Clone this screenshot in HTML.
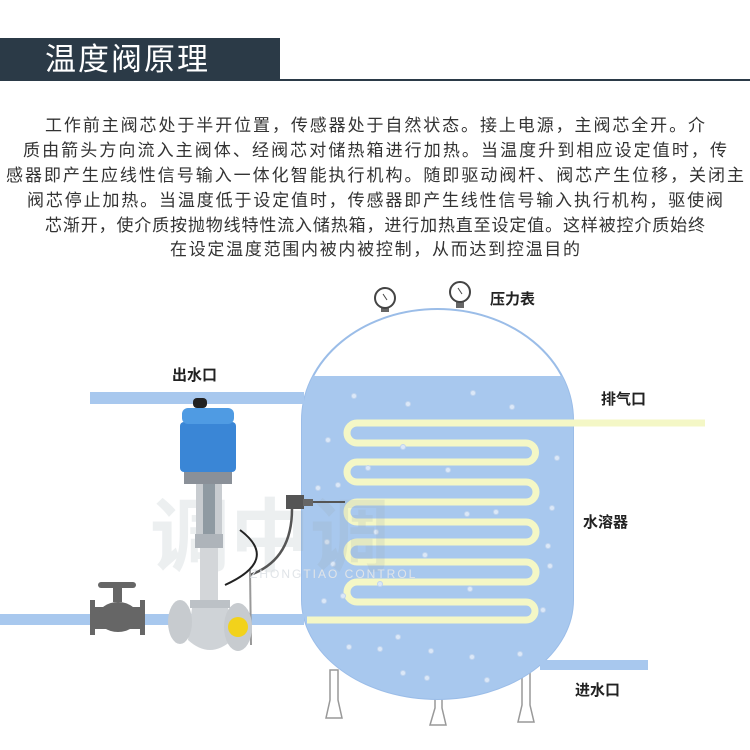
<!DOCTYPE html>
<html><head><meta charset="utf-8"><style>
body{margin:0;width:750px;height:750px;background:#fff;overflow:hidden;position:relative;font-family:"Liberation Sans","Noto Sans CJK SC",sans-serif}
.hd{position:absolute;left:0;top:38px;width:280px;height:43px;background:#2b3a47}
.hl{position:absolute;left:280px;top:79px;width:470px;height:2px;background:#2b3a47}
.ht{position:absolute;left:45px;top:40px;color:#fff;font-size:31px;line-height:40px;letter-spacing:2px}
.ln{position:absolute;font-size:17px;line-height:22px;color:#333;text-align:justify;text-align-last:justify;white-space:nowrap}
</style></head><body>
<div class="hd"></div><div class="hl"></div><div class="ht">温度阀原理</div>
<div class="ln" style="left:45px;top:115px;width:660px">工作前主阀芯处于半开位置，传感器处于自然状态。接上电源，主阀芯全开。介</div>
<div class="ln" style="left:23px;top:140px;width:704px">质由箭头方向流入主阀体、经阀芯对储热箱进行加热。当温度升到相应设定值时，传</div>
<div class="ln" style="left:6px;top:165px;width:738px">感器即产生应线性信号输入一体化智能执行机构。随即驱动阀杆、阀芯产生位移，关闭主</div>
<div class="ln" style="left:27px;top:190px;width:696px">阀芯停止加热。当温度低于设定值时，传感器即产生线性信号输入执行机构，驱使阀</div>
<div class="ln" style="left:45px;top:215px;width:660px">芯渐开，使介质按抛物线特性流入储热箱，进行加热直至设定值。这样被控介质始终</div>
<div class="ln" style="left:170px;top:239px;width:410px">在设定温度范围内被内被控制，从而达到控温目的</div>
<svg width="750" height="750" style="position:absolute;left:0;top:0">
<defs><clipPath id="w"><rect x="290" y="376" width="300" height="340"/></clipPath></defs>
<g fill="#fff" stroke="#999" stroke-width="1.5">
<path d="M330 670 L330 700 L326 718 L342 718 L338 700 L338 670Z"/>
<path d="M435 690 L435 708 L430 725 L446 725 L442 708 L442 690Z"/>
<path d="M522 670 L522 705 L518 722 L534 722 L530 705 L530 670Z"/>
</g>
<path d="M302 420 A135.5 111 0 0 1 573 420 L573 600 A135.5 99 0 0 1 302 600Z" fill="#fff" stroke="#9bbde8" stroke-width="2"/>
<path d="M302 420 A135.5 111 0 0 1 573 420 L573 600 A135.5 99 0 0 1 302 600Z" fill="#a8c8ee" clip-path="url(#w)"/>
<rect x="90" y="392" width="214" height="12" fill="#a8c8ee"/>
<rect x="0" y="614" width="304" height="11" fill="#a8c8ee"/>
<rect x="540" y="660" width="108" height="10" fill="#a8c8ee"/>
<path d="M705 423 L357 423 A10 10 0 0 0 357 443 L526 443 A9.5 9.5 0 0 1 526 462 L357 462 A10 10 0 0 0 357 482 L526 482 A10 10 0 0 1 526 502 L357 502 A10 10 0 0 0 357 522 L526 522 A10 10 0 0 1 526 542 L357 542 A10 10 0 0 0 357 562 L526 562 A10 10 0 0 1 526 582 L357 582 A10 10 0 0 0 357 602 L526 602 A9 9 0 0 1 526 620 L307 620" fill="none" stroke="#f4f7c6" stroke-width="7"/>
<g fill="#dbe8f8" stroke="#c0d4ee" stroke-width="1">
<circle cx="354" cy="396" r="2.5"/><circle cx="408" cy="404" r="2.5"/><circle cx="473" cy="393" r="2.5"/><circle cx="512" cy="407" r="2.5"/>
<circle cx="328" cy="440" r="2.5"/><circle cx="403" cy="447" r="2.5"/><circle cx="557" cy="458" r="2.5"/><circle cx="368" cy="468" r="2.5"/><circle cx="448" cy="470" r="2.5"/>
<circle cx="318" cy="488" r="2.5"/><circle cx="338" cy="485" r="2.5"/><circle cx="552" cy="508" r="2.5"/><circle cx="467" cy="514" r="2.5"/><circle cx="496" cy="512" r="2.5"/>
<circle cx="376" cy="532" r="2.5"/><circle cx="327" cy="542" r="2.5"/><circle cx="548" cy="546" r="2.5"/><circle cx="425" cy="555" r="2.5"/><circle cx="333" cy="564" r="2.5"/>
<circle cx="550" cy="566" r="2.5"/><circle cx="380" cy="584" r="2.5"/><circle cx="470" cy="589" r="2.5"/><circle cx="324" cy="601" r="2.5"/><circle cx="343" cy="596" r="2.5"/>
<circle cx="543" cy="610" r="2.5"/><circle cx="398" cy="637" r="2.5"/><circle cx="431" cy="651" r="2.5"/><circle cx="349" cy="647" r="2.5"/><circle cx="380" cy="649" r="2.5"/>
<circle cx="472" cy="657" r="2.5"/><circle cx="520" cy="654" r="2.5"/><circle cx="403" cy="673" r="2.5"/><circle cx="427" cy="678" r="2.5"/><circle cx="487" cy="680" r="2.5"/>
</g>
<!-- watermark -->
<text x="150" y="565" font-family="Liberation Sans,Noto Sans CJK SC,sans-serif" font-size="80" font-weight="bold" fill="#9aa8b0" opacity="0.18">调中调</text>
<g stroke="#444" stroke-width="2" fill="#fff">
<rect x="381" y="306" width="8" height="6" fill="#666" stroke="none"/><circle cx="385" cy="298" r="10"/>
<rect x="456" y="300" width="8" height="8" fill="#666" stroke="none"/><circle cx="460" cy="292" r="10"/>
<line x1="383" y1="294" x2="387" y2="300" stroke-width="1"/><line x1="458" y1="288" x2="462" y2="294" stroke-width="1"/>
</g>
<g fill="#666">
<rect x="98" y="582" width="38" height="6" rx="3"/>
<rect x="113" y="588" width="9" height="14"/>
<rect x="90" y="600" width="5" height="35"/><rect x="140" y="600" width="5" height="35"/>
<rect x="93" y="607" width="50" height="22"/>
<ellipse cx="118" cy="617" rx="20" ry="15"/>
</g>
<rect x="286" y="495" width="18" height="14" fill="#555"/>
<rect x="303" y="499" width="10" height="7" fill="#666"/>
<line x1="313" y1="502" x2="345" y2="502" stroke="#555" stroke-width="2"/>
<path d="M292 509 Q292 560 250 575" fill="none" stroke="#555" stroke-width="2.5"/>
<line x1="250" y1="570" x2="251" y2="645" stroke="#999" stroke-width="2"/>
<path d="M240 530 Q280 560 225 585" fill="none" stroke="#222" stroke-width="2"/>
<rect x="193" y="398" width="14" height="10" rx="4" fill="#222"/>
<rect x="180" y="422" width="56" height="50" rx="4" fill="#3a86d6"/>
<rect x="182" y="408" width="52" height="16" rx="6" fill="#4f9be3"/>
<rect x="184" y="472" width="48" height="12" fill="#8a9098"/>
<rect x="196" y="484" width="26" height="50" fill="#c8ccd0"/>
<rect x="203" y="484" width="12" height="50" fill="#8f9aa2"/>
<rect x="195" y="534" width="28" height="14" fill="#aeb4ba"/>
<rect x="200" y="548" width="18" height="60" fill="#d3d6d9"/>
<rect x="190" y="600" width="40" height="8" fill="#bcc1c6"/>
<path d="M192 608 L228 608 L232 640 Q210 660 188 640Z" fill="#cfd3d7"/>
<ellipse cx="180" cy="622" rx="12" ry="22" fill="#c7cbcf"/>
<ellipse cx="238" cy="627" rx="14" ry="24" fill="#c7cbcf"/>
<circle cx="238" cy="627" r="10" fill="#f2d21b"/>
<g font-family="Liberation Sans,Noto Sans CJK SC,sans-serif" font-size="15" font-weight="bold" fill="#222">
<text x="490" y="304">压力表</text>
<text x="601" y="404">排气口</text>
<text x="583" y="527">水溶器</text>
<text x="575" y="695">进水口</text>
<text x="172" y="380">出水口</text>
</g>
<text x="250" y="578" font-family="Liberation Sans,sans-serif" font-size="12" fill="#e0e4e8" letter-spacing="2">ZHONGTIAO CONTROL</text>
</svg>
</body></html>
